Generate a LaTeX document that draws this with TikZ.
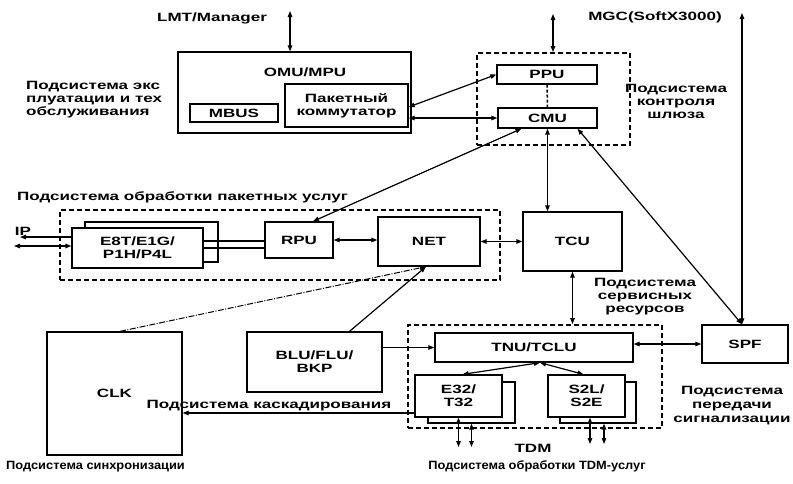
\documentclass[tikz,border=0pt]{standalone}
\usepackage{fontspec}
\setmainfont{Liberation Sans}[FakeStretch=1.42]
\newfontfamily\smallfam{Liberation Sans}[FakeStretch=1.07]
\usetikzlibrary{arrows.meta}
\begin{document}
\begin{tikzpicture}[x=1pt,y=-1pt,
  font=\fontsize{12}{13}\selectfont\bfseries,
  box/.style={draw,line width=1.3pt,inner sep=0pt,align=center},
  dbox/.style={draw,line width=1.8pt,dash pattern=on 5pt off 3pt,inner sep=0pt},
  lbl/.style={inner sep=0pt,align=center},
  slbl/.style={inner sep=0pt,align=center,font=\smallfam\fontsize{12}{13}\selectfont\bfseries},
  tip/.style={-{Triangle[length=6pt,width=4.5pt]}},
  dbl/.style={{Triangle[length=6pt,width=4.5pt]}-{Triangle[length=6pt,width=4.5pt]}},
  conn/.style={line width=1.2pt}]
\useasboundingbox (0,0) rectangle (793,483);
% dashed subsystem frames
\node[dbox,minimum width=153pt,minimum height=92pt] (ctrl) at (553.5,99) {};
\node[dbox,minimum width=440pt,minimum height=70pt] (pkt) at (280,245) {};
\node[dbox,minimum width=254pt,minimum height=103pt] (tdm) at (535,376.5) {};
% boxes
\node[box,minimum width=233pt,minimum height=81pt] (omu) at (294.5,92.5) {};
\node[lbl] (omulbl) at (305,72) {OMU/MPU};
\node[box,minimum width=88pt,minimum height=18pt] (mbus) at (234,113) {MBUS};
\node[box,minimum width=123pt,minimum height=43pt] (pk) at (346.5,105.5) {Пакетный\\коммутатор};
\node[box,minimum width=100pt,minimum height=19pt] (ppu) at (547,74.5) {PPU};
\node[box,minimum width=99pt,minimum height=20pt] (cmu) at (547.5,118) {CMU};
\node[box,fill=white,minimum width=133pt,minimum height=40pt] (e8tsh) at (151.5,242) {};
\node[box,fill=white,minimum width=131pt,minimum height=40pt] (e8t) at (137.5,248) {E8T/E1G/\\P1H/P4L};
\node[box,minimum width=68pt,minimum height=36pt] (rpu) at (299,240) {RPU};
\node[box,minimum width=102pt,minimum height=49pt] (net) at (429,241.5) {NET};
\node[box,minimum width=99pt,minimum height=59pt] (tcu) at (572.5,241.5) {TCU};
\node[box,minimum width=198pt,minimum height=29pt] (tnu) at (534,347.5) {TNU/TCLU};
\node[box,minimum width=135pt,minimum height=60pt] (blu) at (314.5,362) {BLU/FLU/\\BKP};
\node[box,minimum width=135pt,minimum height=123pt] (clk) at (114.5,393.5) {CLK};
\node[box,fill=white,minimum width=87pt,minimum height=41pt] (e32sh) at (471.5,402.5) {};
\node[box,fill=white,minimum width=87pt,minimum height=42pt] (e32) at (458.5,396) {E32/\\T32};
\node[box,fill=white,minimum width=76pt,minimum height=41pt] (s2lsh) at (598,402.5) {};
\node[box,fill=white,minimum width=77pt,minimum height=42pt] (s2l) at (586.5,396) {S2L/\\S2E};
\node[box,minimum width=86pt,minimum height=38pt] (spf) at (745,344) {SPF};
% dashed link PPU-CMU
\draw[line width=1.5pt,dash pattern=on 3pt off 2pt] (ppu.south) -- (cmu.north);
% texts
\node[lbl] (lmt) at (212,18) {LMT/Manager};
\node[lbl] (mgc) at (655,17) {MGC(SoftX3000)};
\node[lbl,align=left,anchor=west] (t1) at (26,100) {Подсистема экс\\плуатации и тех\\обслуживания};
\node[lbl] (t2) at (676,101) {Подсистема\\контроля\\шлюза};
\node[lbl,anchor=west] (t3) at (17,197) {Подсистема обработки пакетных услуг};
\node[lbl] (t4) at (645,297) {Подсистема\\сервисных\\ресурсов};
\node[lbl] (t5) at (269,406) {Подсистема каскадирования};
\node[slbl,anchor=west] (t6) at (6,467) {Подсистема синхронизации};
\node[lbl] (tdmlbl) at (533,448) {TDM};
\node[slbl] (t7) at (537,466) {Подсистема обработки TDM-услуг};
\node[lbl,font=\fontsize{12}{14}\selectfont\bfseries] (t8) at (732,406) {Подсистема\\передачи\\сигнализации};
\node[lbl] (iplbl) at (23,231) {IP};
% free-end coordinates
\coordinate (lmttop) at (290,11);
\coordinate (mgctop) at (742,13);
\coordinate (ctop) at (553,14);
\coordinate (ip1) at (20,237);
\coordinate (ip2) at (14,246);
\coordinate (spftop) at ([xshift=-3pt]spf.north);
\coordinate (netin) at ([xshift=-3pt]net.south);
\coordinate (tnub) at ([xshift=6pt]tnu.south);
\coordinate (e1) at (458.5,447);
\coordinate (e2) at (471.5,447);
\coordinate (s1) at (590,444);
\coordinate (s2) at (604,444);
% connectors
\draw[conn,dbl] (lmttop) -- (lmttop |- omu.north);
\draw[conn,dbl] (mgctop) -- (spftop);
\draw[conn,dbl] (ctop) -- (ctop |- ctrl.north);
\draw[conn,dbl] ([yshift=-1.5pt]pk.east) -- (ppu.west);
\draw[conn,dbl] (pk.east |- cmu.west) -- (cmu.west);
\draw[conn,dbl] ([xshift=14pt]rpu.north) -- ([xshift=-26pt]cmu.south);
\draw[conn,dbl] (cmu.south) -- (cmu.south |- tcu.north);
\draw[conn,dbl] ([xshift=30pt]cmu.south) -- (spftop);
\draw[conn,tip] (e8t.west |- ip1) -- (ip1);
\draw[conn,dbl] (ip2) -- (e8t.west |- ip2);
\draw[conn] ([yshift=7pt]e8t.east) -- ([yshift=7pt]e8t.east -| rpu.west);
\draw[conn] (e8t.east) -- (e8t.east -| rpu.west);
\draw[conn,dbl] (rpu.east) -- (rpu.east -| net.west);
\draw[conn,dbl] (tcu.west -| net.east) -- (tcu.west);
\draw[conn,dbl] (tcu.south) -- (tcu.south |- tdm.north);
\draw[conn,tip] ([xshift=35pt]blu.north) -- (netin);
\draw[line width=1pt,dash pattern=on 6pt off 1.5pt on 1pt off 1.5pt,tip] ([xshift=5.5pt]clk.north) -- (netin);
\draw[conn,tip] (blu.east |- tnu.west) -- (tnu.west);
\draw[conn,dbl] (spf.west -| tnu.east) -- (spf.west);
\draw[conn,dbl] (tnub) -- ([xshift=4pt]e32.north);
\draw[conn,dbl] (tnub) -- ([xshift=-3pt]s2l.north);
\draw[conn,tip] ([yshift=-17pt]e32.west) -- ([yshift=-17pt]e32.west -| clk.east);
\draw[conn,dbl] (e32.south) -- (e1);
\draw[conn,dbl] (e32sh.south) -- (e2);
\draw[conn,dbl] ([xshift=3.5pt]s2l.south) -- (s1);
\draw[conn,dbl] ([xshift=6pt]s2lsh.south) -- (s2);
\end{tikzpicture}
\end{document}
